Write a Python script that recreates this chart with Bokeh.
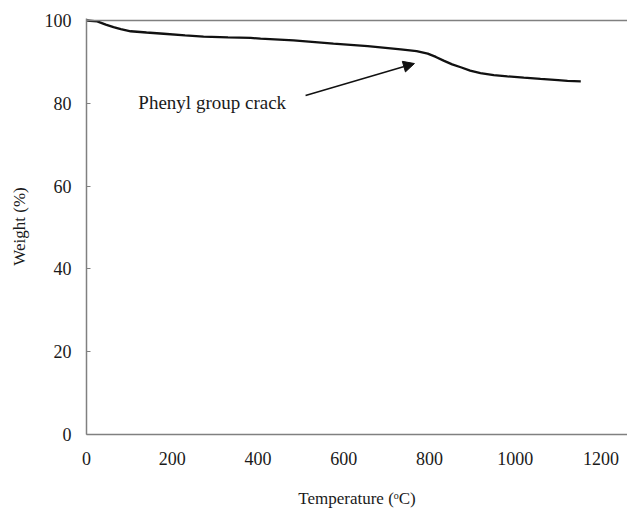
from bokeh.plotting import figure
from bokeh.models import Range1d, FixedTicker, Span, Arrow, NormalHead, Label
from bokeh.embed import file_html
from bokeh.resources import INLINE

# Data (TGA curve)
temperature = [0, 25, 45, 63, 80, 103, 140, 180, 230, 273, 330, 383, 406, 483, 576,
               656, 733, 770, 796, 815, 833, 853, 873, 895, 919, 950, 982, 1020,
               1059, 1100, 1122, 1153]
weight = [100.0, 99.8, 99.0, 98.4, 97.9, 97.4, 97.1, 96.8, 96.4, 96.1, 95.9, 95.8,
          95.6, 95.2, 94.4, 93.8, 93.0, 92.6, 92.0, 91.2, 90.3, 89.4, 88.7, 87.9,
          87.3, 86.8, 86.5, 86.2, 85.9, 85.6, 85.4, 85.3]

x_ticks = [0, 200, 400, 600, 800, 1000, 1200]
y_ticks = [0, 20, 40, 60, 80, 100]

annotation_text = "Phenyl group crack"
annotation_pos = (121, 80.2)
arrow_start = (511, 81.9)
arrow_end = (765, 89.6)

FONT = "Liberation Serif"
GRAY = "#808080"
TXT = "#1a1a1a"

p = figure(width=627, height=510, output_backend="svg", toolbar_location=None,
           x_range=Range1d(0, 1262), y_range=Range1d(0, 100.48),
           min_border_left=86, min_border_right=0, min_border_top=18,
           min_border_bottom=76)
p.outline_line_color = None
p.background_fill_color = "white"
p.border_fill_color = "white"
p.xgrid.visible = False
p.ygrid.visible = False

p.add_layout(Span(location=100, dimension="width", line_color=GRAY, line_width=1.5))

p.line(temperature, weight, line_color="#111111", line_width=2.3)

p.add_layout(Label(x=annotation_pos[0], y=annotation_pos[1], text=annotation_text,
                   text_font=FONT, text_font_size="19px", text_color=TXT,
                   text_baseline="middle", text_align="left"))
p.add_layout(Arrow(x_start=arrow_start[0], y_start=arrow_start[1],
                   x_end=arrow_end[0], y_end=arrow_end[1],
                   line_color="#111111", line_width=1.5,
                   end=NormalHead(size=11, fill_color="#111111", line_color="#111111")))

for ax in (p.xaxis[0], p.yaxis[0]):
    ax.axis_line_color = GRAY
    ax.axis_line_width = 1.5
    ax.major_tick_line_color = GRAY
    ax.minor_tick_line_color = None
    ax.major_label_text_font = FONT
    ax.major_label_text_font_size = "18px"
    ax.major_label_text_color = TXT
    ax.axis_label_text_font = FONT
    ax.axis_label_text_font_size = "17px"
    ax.axis_label_text_font_style = "normal"
    ax.axis_label_text_color = TXT

p.xaxis.ticker = FixedTicker(ticks=x_ticks)
p.yaxis.ticker = FixedTicker(ticks=y_ticks)
p.xaxis.major_tick_line_color = None
p.xaxis.major_label_standoff = 11
p.yaxis.major_tick_in = 4
p.yaxis.major_tick_out = 0
p.yaxis.major_label_standoff = 15
p.xaxis.axis_label = "Temperature (ᵒC)"
p.yaxis.axis_label = "Weight (%)"
p.xaxis.axis_label_standoff = 21
p.yaxis.axis_label_standoff = 13

open("out.html", "w").write(file_html(p, INLINE))
